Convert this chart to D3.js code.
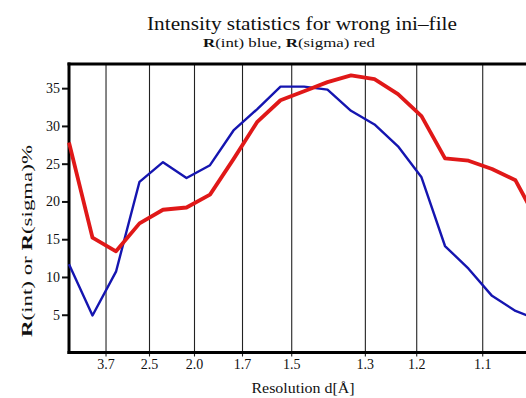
<!DOCTYPE html>
<html>
<head>
<meta charset="utf-8">
<script src="https://cdn.jsdelivr.net/npm/d3@7"></script>
<style>
  html, body { margin: 0; padding: 0; background: #fff; }
  svg { display: block; }
  text { font-family: "Liberation Serif", "Times New Roman", serif; fill: #111; }
</style>
</head>
<body>
<svg id="chart" width="526" height="398"></svg>
<script>
// ---- data ----
// bin positions in 1/d^2 (Å^-2)
const binS = [0.000, 0.047, 0.094, 0.141, 0.188, 0.235, 0.282, 0.329, 0.376, 0.423,
              0.470, 0.517, 0.564, 0.611, 0.658, 0.705, 0.752, 0.799, 0.846, 0.893, 0.940];
const rInt = [11.7, 4.9, 10.7, 22.6, 25.2, 23.1, 24.8, 29.4, 32.2, 35.2,
              35.2, 34.8, 32.0, 30.2, 27.3, 23.2, 14.1, 11.1, 7.5, 5.5, 4.3];
const rSigma = [27.8, 15.2, 13.4, 17.1, 18.9, 19.2, 20.9, 25.6, 30.5, 33.4,
                34.6, 35.8, 36.7, 36.2, 34.2, 31.3, 25.7, 25.4, 24.3, 22.8, 17.0];
const resTicks = ["3.7", "2.5", "2.0", "1.7", "1.5", "1.3", "1.2", "1.1"];
const yTicks = [5, 10, 15, 20, 25, 30, 35];

const svg = d3.select("#chart");
const W = 526, H = 398;
const pLeft = 69, pTop = 64, pBottom = 352.5;

const x = d3.scaleLinear().domain([0, 1]).range([pLeft, pLeft + 500]);
const y = d3.scaleLinear().domain([0, 38.2]).range([pBottom, pTop]);

svg.append("rect").attr("width", W).attr("height", H).attr("fill", "#fff");

// vertical grid lines at resolution ticks
const xAxis = d3.axisBottom(x)
  .tickValues(resTicks.map(d => 1 / (+d * +d)))
  .tickFormat((d, i) => resTicks[i])
  .tickSizeOuter(0)
  .tickPadding(8);
const gx = svg.append("g").attr("transform", `translate(0,${pBottom + 4})`).call(xAxis);
gx.select(".domain").remove();
gx.selectAll(".tick line").attr("stroke", "#222").attr("stroke-width", 1.1)
  .attr("y1", 0).attr("y2", -(pBottom + 4 - pTop));
gx.selectAll(".tick text").attr("font-size", 14).attr("fill", "#222")
  .attr("y", 3).attr("dy", "0.71em");

// y axis
const yAxis = d3.axisLeft(y).tickValues(yTicks).tickSize(7).tickPadding(2);
const gy = svg.append("g").attr("transform", `translate(${pLeft},0)`).call(yAxis);
gy.select(".domain").remove();
gy.selectAll(".tick line").attr("stroke", "#111").attr("stroke-width", 2);
gy.selectAll(".tick text").attr("font-size", 14).attr("fill", "#222");

// frame
svg.append("line").attr("x1", pLeft).attr("x2", pLeft).attr("y1", pTop - 1.5).attr("y2", pBottom + 1.5)
  .attr("stroke", "#000").attr("stroke-width", 3);
svg.append("line").attr("x1", pLeft - 1.5).attr("x2", W).attr("y1", pTop).attr("y2", pTop)
  .attr("stroke", "#000").attr("stroke-width", 3);
svg.append("line").attr("x1", pLeft - 1.5).attr("x2", W).attr("y1", pBottom).attr("y2", pBottom)
  .attr("stroke", "#000").attr("stroke-width", 3);

// series
const line = d3.line().x((d, i) => x(binS[i])).y(d => y(d));
svg.append("path").datum(rInt).attr("d", line)
  .attr("fill", "none").attr("stroke", "#1515b0").attr("stroke-width", 2.4)
  .attr("stroke-linejoin", "round");
svg.append("path").datum(rSigma).attr("d", line)
  .attr("fill", "none").attr("stroke", "#e01818").attr("stroke-width", 3.8)
  .attr("stroke-linejoin", "round");

// titles
svg.append("text").attr("x", 302).attr("y", 30).attr("text-anchor", "middle")
  .attr("font-size", 18).attr("textLength", 310).attr("lengthAdjust", "spacingAndGlyphs")
  .text("Intensity statistics for wrong ini\u2013file");

const sub = svg.append("text").attr("x", 289).attr("y", 46.5).attr("text-anchor", "middle")
  .attr("font-size", 12).attr("textLength", 172).attr("lengthAdjust", "spacingAndGlyphs");
sub.append("tspan").attr("font-weight", "bold").text("R");
sub.append("tspan").text("(int) blue, ");
sub.append("tspan").attr("font-weight", "bold").text("R");
sub.append("tspan").text("(sigma) red");

svg.append("text").attr("x", 303).attr("y", 393).attr("text-anchor", "middle")
  .attr("font-size", 14.5).attr("textLength", 103).attr("lengthAdjust", "spacingAndGlyphs")
  .text("Resolution d[\u00C5]");

const yl = svg.append("text").attr("transform", "translate(32,241) rotate(-90)")
  .attr("text-anchor", "middle").attr("font-size", 15)
  .attr("textLength", 192).attr("lengthAdjust", "spacingAndGlyphs");
yl.append("tspan").attr("font-weight", "bold").text("R");
yl.append("tspan").text("(int) or ");
yl.append("tspan").attr("font-weight", "bold").text("R");
yl.append("tspan").text("(sigma)%");
</script>
</body>
</html>
